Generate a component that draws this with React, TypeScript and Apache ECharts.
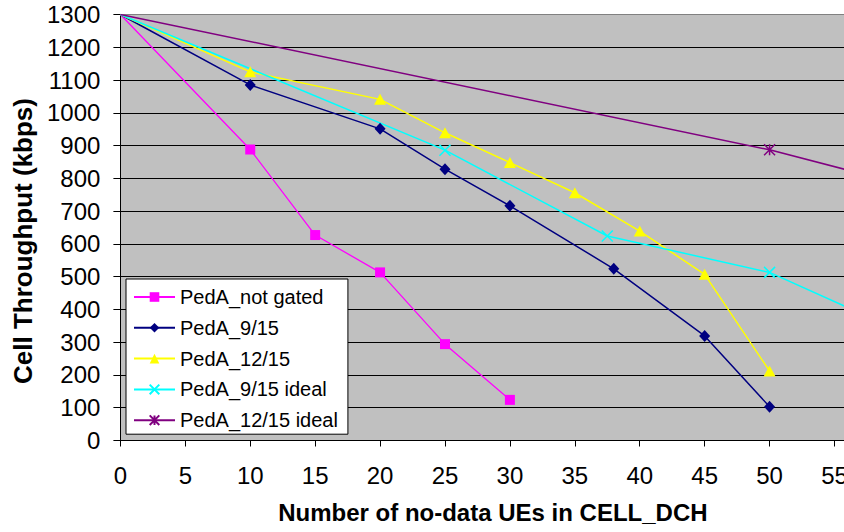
import React, { useEffect, useRef } from "react";
import * as echarts from "echarts";

const seriesNames = ["PedA_not gated", "PedA_9/15", "PedA_12/15", "PedA_9/15 ideal", "PedA_12/15 ideal"];

const notGatedX = [0, 10, 15, 20, 25, 30];
const notGatedY = [1300, 888, 627, 513, 294, 124];

const g915X = [0, 10, 20, 25, 30, 38, 45, 50];
const g915Y = [1300, 1085, 951, 828, 716, 524, 319, 103];

const g1215X = [0, 10, 20, 25, 30, 35, 40, 45, 50];
const g1215Y = [1300, 1125, 1041, 939, 848, 756, 639, 507, 212];

const ideal915X = [0, 25, 37.5, 50, 62.5];
const ideal915Y = [1300, 886, 624, 513, 290];

const ideal1215X = [0, 50, 75];
const ideal1215Y = [1300, 887, 630];

const yTicks = [0, 100, 200, 300, 400, 500, 600, 700, 800, 900, 1000, 1100, 1200, 1300];

const FONT = "'Liberation Sans', Arial, sans-serif";

function pts(xs: number[], ys: number[]) {
  return xs.map((x, i) =>
    x === 0 ? { value: [x, ys[i]], symbol: "none" } : { value: [x, ys[i]] }
  );
}

export default function App() {
  const ref = useRef<HTMLDivElement>(null);
  useEffect(() => {
    if (!ref.current) return;
    const chart = echarts.init(ref.current, null, { renderer: "svg" });
    const splitColors = yTicks.map((v) => (v === 1300 ? "#808080" : "#000000"));
    chart.setOption({
      animation: false,
      grid: {
        left: 120.4,
        top: 14.5,
        width: 779,
        height: 426,
        show: true,
        backgroundColor: "#C0C0C0",
        borderWidth: 0,
        outerBoundsMode: "none",
        containLabel: false,
      },
      legend: {
        orient: "vertical",
        left: 126,
        top: 279,
        backgroundColor: "#ffffff",
        borderColor: "#000000",
        borderWidth: 1,
        borderRadius: 0,
        padding: [7, 10, 3, 7],
        itemWidth: 41,
        itemHeight: 12,
        itemGap: 8.8,
        data: seriesNames,
        textStyle: { fontFamily: FONT, fontSize: 20, color: "#000", lineHeight: 22 },
      },
      xAxis: {
        type: "value",
        min: 0,
        max: 60,
        interval: 5,
        name: "Number of no-data UEs in CELL_DCH",
        nameLocation: "middle",
        nameGap: 60,
        nameTextStyle: {
          fontFamily: FONT,
          fontSize: 24,
          fontWeight: "bold",
          color: "#000",
          padding: [0, 34, 0, 0],
        },
        axisLine: { show: true, lineStyle: { color: "#000", width: 1 } },
        axisTick: { show: true, length: 6, lineStyle: { color: "#000" } },
        axisLabel: {
          fontFamily: FONT,
          fontSize: 24,
          color: "#000",
          margin: 23,
          showMaxLabel: false,
          formatter: (v: number) => String(v),
        },
        splitLine: { show: false },
      },
      yAxis: {
        type: "value",
        min: 0,
        max: 1300,
        interval: 100,
        name: "Cell Throughput (kbps)",
        nameLocation: "middle",
        nameGap: 83,
        nameTextStyle: {
          fontFamily: FONT,
          fontSize: 26,
          fontWeight: "bold",
          color: "#000",
          padding: [0, 27, 0, 0],
        },
        axisLine: { show: true, lineStyle: { color: "#000", width: 1 } },
        axisTick: { show: true, length: 7, lineStyle: { color: "#000" } },
        axisLabel: {
          fontFamily: FONT,
          fontSize: 24,
          color: "#000",
          margin: 20,
          formatter: (v: number) => String(v),
        },
        splitLine: { show: true, lineStyle: { color: splitColors, width: 1 } },
      },
      series: [
        {
          name: seriesNames[0],
          type: "line",
          data: pts(notGatedX, notGatedY),
          symbol: "rect",
          symbolSize: 10,
          lineStyle: { color: "#FF00FF", width: 1.3 },
          itemStyle: { color: "#FF00FF" },
        },
        {
          name: seriesNames[1],
          type: "line",
          data: pts(g915X, g915Y),
          symbol: "diamond",
          symbolSize: [11, 12],
          lineStyle: { color: "#000080", width: 1.5 },
          itemStyle: { color: "#000080" },
        },
        {
          name: seriesNames[2],
          type: "line",
          data: pts(g1215X, g1215Y),
          symbol: "triangle",
          symbolSize: [12, 11],
          lineStyle: { color: "#FFFF00", width: 1.5 },
          itemStyle: { color: "#FFFF00" },
        },
        {
          name: seriesNames[3],
          type: "line",
          data: pts(ideal915X, ideal915Y),
          symbol: "path://M0,0L10,10M10,0L0,10",
          symbolSize: 11,
          lineStyle: { color: "#00FFFF", width: 1.5 },
          itemStyle: { color: "#00FFFF", borderColor: "#00FFFF", borderWidth: 1.5 },
        },
        {
          name: seriesNames[4],
          type: "line",
          data: pts(ideal1215X, ideal1215Y),
          symbol: "path://M5,0L5,10M0,0L10,10M10,0L0,10",
          symbolSize: 11,
          lineStyle: { color: "#800080", width: 1.5 },
          itemStyle: { color: "#800080", borderColor: "#800080", borderWidth: 1.5 },
        },
      ],
    });
    return () => chart.dispose();
  }, []);
  return (
    <div
      ref={ref}
      style={{ position: "absolute", left: 0, top: 0, width: 844, height: 532, background: "#fff" }}
    />
  );
}
